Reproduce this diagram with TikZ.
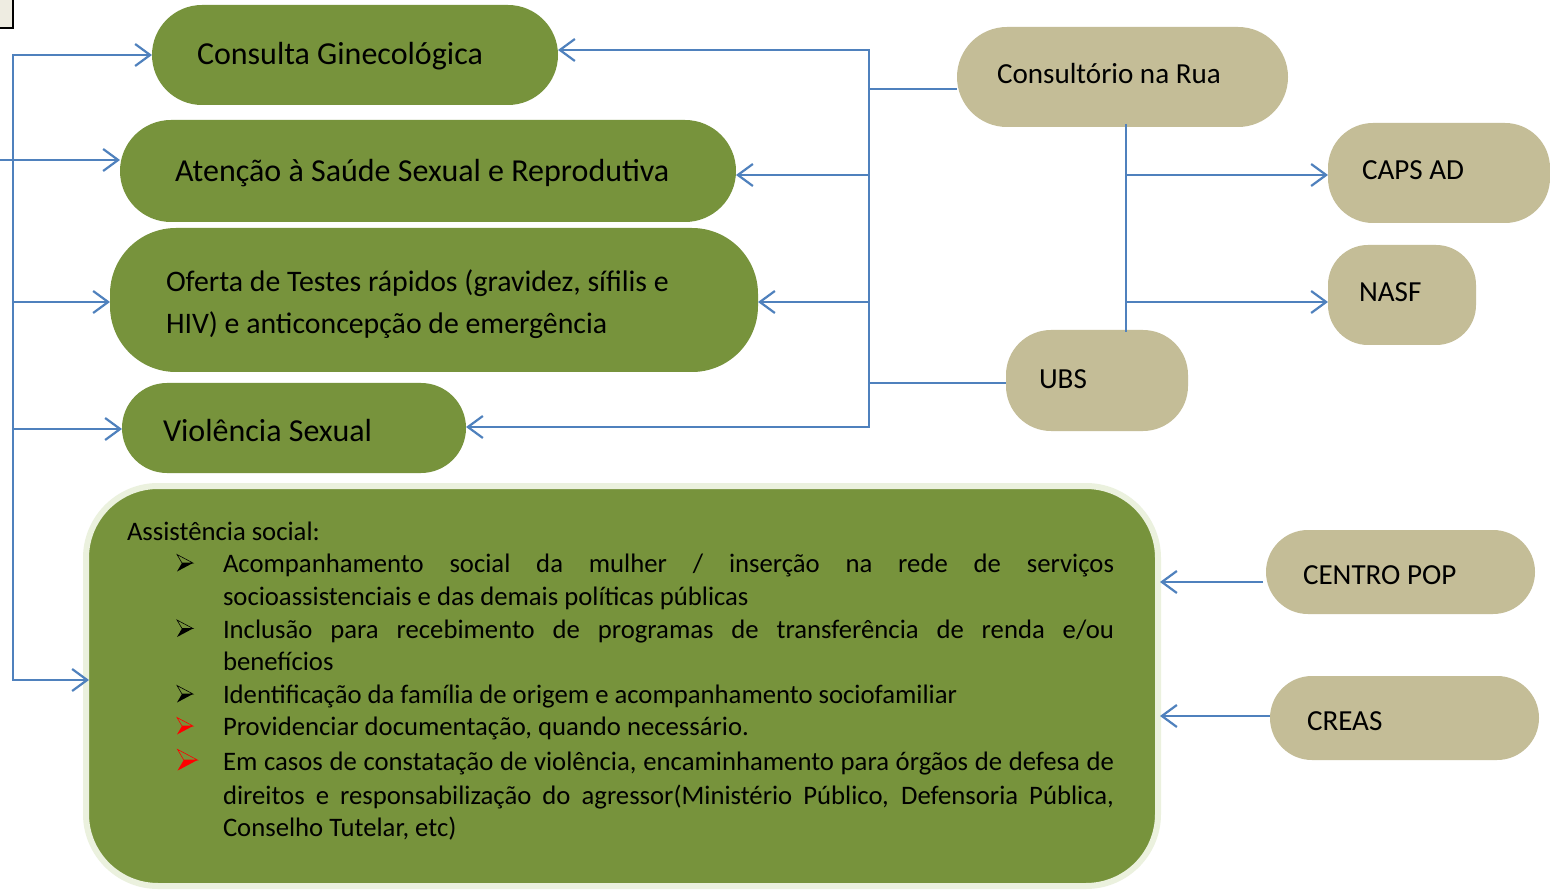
\documentclass[tikz,border=0pt]{standalone}
\usepackage{fontspec}
\setmainfont{Carlito}
\usetikzlibrary{arrows.meta,calc}
\definecolor{cgreen}{HTML}{77933C}
\definecolor{cbeige}{HTML}{C4BD97}
\definecolor{cblue}{HTML}{4F81BD}
\definecolor{cborder}{HTML}{EBF1DE}
\definecolor{cpale}{HTML}{EEECE1}
\newcommand\nudge[2]{\spaceskip=0pt\xspaceskip=0pt\raisebox{#1}[\height][\depth]{#2}}
\begin{document}
\begin{tikzpicture}[x=1pt,y=-1pt,
  shp/.style={draw=none, outer sep=0pt, inner ysep=0pt, align=left, text=black},
  gbox/.style={shp, fill=cgreen, font=\fontsize{32}{38}\selectfont},
  bbox/.style={shp, fill=cbeige, font=\fontsize{29.1}{35}\selectfont},
  conn/.style={draw=cblue, line width=2.2pt, line cap=rect},
  arr/.style={draw=cblue, line width=2.2pt, -{Straight Barb[length=15pt,width=22pt]}},
  txt/.style={anchor=base west, inner sep=0pt, outer sep=0pt, font=\fontsize{26.7}{32}\selectfont},
  bullet/.pic={
    \draw[line width=0.6pt, line join=miter] (-8,-8.5) -- (8,0) -- (-3,0) -- cycle;
    \fill (-3,0) -- (8,0) -- (-8,8.5) -- cycle;
  }
]
\useasboundingbox (0,0) rectangle (1550,890);
\fill[white] (0,0) rectangle (1550,890);

% corner box
\node[draw=black, fill=cpale, line width=1.5pt, minimum width=30pt, minimum height=40pt,
      anchor=south east, inner sep=0pt, outer sep=0pt] (tl) at (13,28) {};

% green nodes
\node[gbox, minimum width=406pt, minimum height=100pt, rounded corners=50pt, inner xsep=45pt, text width=316pt]
  (cg) at (355,55) {\nudge{-1.5pt}{Consulta Ginecológica}};
\node[gbox, minimum width=616pt, minimum height=102pt, rounded corners=51pt, inner xsep=55pt, text width=506pt]
  (at) at (428,171) {\nudge{-2pt}{Atenção à Saúde Sexual e Reprodutiva}};
\node[gbox, minimum width=648pt, minimum height=144pt, rounded corners=66pt, inner xsep=56pt, text width=536pt,
      font=\fontsize{29.8}{42}\selectfont]
  (of) at (434,300) {\nudge{-4pt}{\begin{tabular}{@{}l@{}}Oferta de Testes rápidos (gravidez, sífilis e\\HIV) e anticoncepção de emergência\end{tabular}}};
\node[gbox, minimum width=344pt, minimum height=90pt, rounded corners=45pt, inner xsep=41pt, text width=262pt]
  (vs) at (294,428) {\nudge{-3pt}{Violência Sexual}};

% big box
\node[draw=cborder, fill=cgreen, line width=6pt, minimum width=1072pt, minimum height=400pt,
      rounded corners=72pt, inner sep=0pt, outer sep=0pt] (as) at (622,686) {};

% beige nodes
\node[bbox, minimum width=331pt, minimum height=100pt, rounded corners=50pt, inner xsep=40pt, text width=251pt]
  (cr) at (1122.5,77) {\nudge{3pt}{Consultório na Rua}};
\node[bbox, minimum width=222pt, minimum height=100pt, rounded corners=45pt, inner xsep=34pt, text width=154pt]
  (caps) at (1439,173) {\nudge{3pt}{CAPS AD}};
\node[bbox, minimum width=148pt, minimum height=100pt, rounded corners=40pt, inner xsep=31pt, text width=86pt]
  (nasf) at (1402,295) {\nudge{3pt}{NASF}};
\node[bbox, minimum width=182pt, minimum height=101pt, rounded corners=45pt, inner xsep=33pt, text width=116pt]
  (ubs) at (1097,380.5) {\nudge{1pt}{UBS}};
\node[bbox, minimum width=269pt, minimum height=84pt, rounded corners=42pt, inner xsep=37pt, text width=195pt]
  (pop) at (1400.5,572) {\nudge{-3pt}{CENTRO POP}};
\node[bbox, minimum width=269pt, minimum height=84pt, rounded corners=42pt, inner xsep=37pt, text width=195pt]
  (creas) at (1404.5,718) {\nudge{-3pt}{CREAS}};

% text in big box
\node[txt] (t0) at (127,540.7) {Assistência social:};
\node[txt] (t1) at (223,572.5) {\makebox[891pt][s]{Acompanhamento social da mulher / inserção na rede de serviços}};
\node[txt] (t2) at (223,605.5) {socioassistenciais e das demais políticas públicas};
\node[txt] (t3) at (223,638.3) {\makebox[891pt][s]{Inclusão para recebimento de programas de transferência de renda e/ou}};
\node[txt] (t4) at (223,670.7) {benefícios};
\node[txt] (t5) at (223,703.3) {Identificação da família de origem e acompanhamento sociofamiliar};
\node[txt] (t6) at (223,735.5) {Providenciar documentação, quando necessário.};
\node[txt] (t7) at (223,770.7) {\makebox[891pt][s]{Em casos de constatação de violência, encaminhamento para órgãos de defesa de}};
\node[txt] (t8) at (223,804) {\makebox[891pt][s]{direitos e responsabilização do agressor(Ministério Público, Defensoria Pública,}};
\node[txt] (t9) at (223,836.7) {Conselho Tutelar, etc)};

% bullets
\pic[black] at (185,563) {bullet};
\pic[black] at (185,628.5) {bullet};
\pic[black] at (185,694) {bullet};
\pic[red] at (185,726) {bullet};
\pic[red, scale=1.25] at (187.5,760) {bullet};

% left bus
\coordinate (lt) at (13,55);
\coordinate (lb) at (13,680);
\coordinate (l2) at (0,160);
\coordinate (l3) at (13,302);
\coordinate (l4) at (13,429);
\draw[conn] (lt) -- (lb);
\draw[arr] (lt) -- (lt -| cg.west);
\draw[arr] (l2) -- (l2 -| at.west);
\draw[arr] (l3) -- (l3 -| of.west);
\draw[arr] (l4) -- (l4 -| vs.west);
\draw[arr] (lb) -- ($(lb -| as.west)+(3,0)$);

% right bus
\coordinate (rt) at (869,50);
\coordinate (rb) at (869,427);
\coordinate (r2) at (869,175);
\coordinate (r3) at (869,302);
\coordinate (r5) at (869,89);
\coordinate (r6) at (869,383);
\draw[conn] (rt) -- (rb);
\draw[arr] (rt) -- (rt -| cg.east);
\draw[arr] (r2) -- (r2 -| at.east);
\draw[arr] (r3) -- (r3 -| of.east);
\draw[arr] (rb) -- (rb -| vs.east);
\draw[conn, line cap=butt] (r5) -- (r5 -| cr.west);
\draw[conn, line cap=butt] (r6) -- (r6 -| ubs.west);

% vertical between Consultorio and UBS
\coordinate (vt) at (1126,124);
\coordinate (vb) at (1126,332);
\coordinate (v2) at (1126,175);
\coordinate (v3) at (1126,302);
\draw[draw=cblue, line width=2.2pt] (vt) -- (vb);
\draw[arr] (v2) -- (v2 -| caps.west);
\draw[arr] (v3) -- (v3 -| nasf.west);

% right lower arrows
\coordinate (p1) at (1263,582);
\coordinate (p2) at (1270,716);
\draw[arr] (p1) -- ($(p1 -| as.east)+(2,0)$);
\draw[arr] (p2) -- ($(p2 -| as.east)+(2,0)$);
\end{tikzpicture}
\end{document}
